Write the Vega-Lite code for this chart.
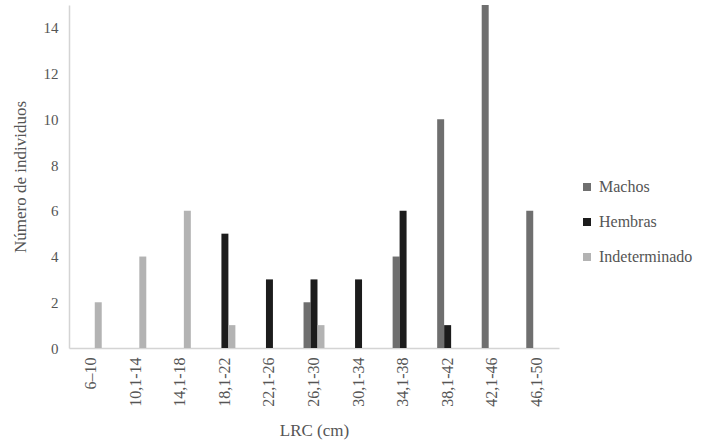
{
  "$schema": "https://vega.github.io/schema/vega-lite/v6.json",
  "autosize": "none",
  "width": 490,
  "height": 343,
  "padding": {"left": 69, "top": 5, "right": 155, "bottom": 98},
  "background": "white",
  "config": {
    "view": {"stroke": null},
    "font": "Liberation Serif"
  },
  "data": {
    "values": [
      {"LRC": "6–10", "Sexo": "Indeterminado", "n": 2},
      {"LRC": "10,1-14", "Sexo": "Indeterminado", "n": 4},
      {"LRC": "14,1-18", "Sexo": "Indeterminado", "n": 6},
      {"LRC": "18,1-22", "Sexo": "Hembras", "n": 5},
      {"LRC": "18,1-22", "Sexo": "Indeterminado", "n": 1},
      {"LRC": "22,1-26", "Sexo": "Hembras", "n": 3},
      {"LRC": "26,1-30", "Sexo": "Machos", "n": 2},
      {"LRC": "26,1-30", "Sexo": "Hembras", "n": 3},
      {"LRC": "26,1-30", "Sexo": "Indeterminado", "n": 1},
      {"LRC": "30,1-34", "Sexo": "Hembras", "n": 3},
      {"LRC": "34,1-38", "Sexo": "Machos", "n": 4},
      {"LRC": "34,1-38", "Sexo": "Hembras", "n": 6},
      {"LRC": "38,1-42", "Sexo": "Machos", "n": 10},
      {"LRC": "38,1-42", "Sexo": "Hembras", "n": 1},
      {"LRC": "42,1-46", "Sexo": "Machos", "n": 15},
      {"LRC": "46,1-50", "Sexo": "Machos", "n": 6}
    ]
  },
  "mark": {"type": "bar"},
  "encoding": {
    "x": {
      "field": "LRC",
      "type": "nominal",
      "sort": ["6–10", "10,1-14", "14,1-18", "18,1-22", "22,1-26", "26,1-30", "30,1-34", "34,1-38", "38,1-42", "42,1-46", "46,1-50"],
      "scale": {"paddingInner": 0.53, "paddingOuter": 0.265},
      "axis": {
        "title": "LRC (cm)",
        "titleFont": "Liberation Serif",
        "titleFontSize": 17,
        "titleFontWeight": "normal",
        "titleColor": "#555555",
        "titlePadding": 16,
        "labelAngle": -90,
        "labelFont": "Liberation Serif",
        "labelFontSize": 16,
        "labelColor": "#555555",
        "labelPadding": 9,
        "ticks": false,
        "domainColor": "#d4d4d4",
        "domainWidth": 1.5
      }
    },
    "xOffset": {
      "field": "Sexo",
      "type": "nominal",
      "scale": {"domain": ["Machos", "Hembras", "Indeterminado"], "paddingInner": 0, "paddingOuter": 0}
    },
    "y": {
      "field": "n",
      "type": "quantitative",
      "scale": {"domain": [0, 15], "nice": false},
      "axis": {
        "title": "Número de individuos",
        "titleFont": "Liberation Serif",
        "titleFontSize": 17,
        "titleFontWeight": "normal",
        "titleColor": "#555555",
        "titlePadding": 14,
        "values": [0, 2, 4, 6, 8, 10, 12, 14],
        "grid": false,
        "ticks": false,
        "labelFont": "Liberation Serif",
        "labelFontSize": 15,
        "labelColor": "#555555",
        "labelPadding": 11,
        "domainColor": "#d4d4d4",
        "domainWidth": 1.5
      }
    },
    "color": {
      "field": "Sexo",
      "type": "nominal",
      "scale": {"domain": ["Machos", "Hembras", "Indeterminado"], "range": ["#6f6f6f", "#1c1c1c", "#b3b3b3"]},
      "legend": {
        "title": null,
        "orient": "none",
        "legendX": 510,
        "legendY": 174,
        "symbolType": "square",
        "symbolSize": 64,
        "symbolStrokeWidth": 0,
        "labelFont": "Liberation Serif",
        "labelFontSize": 16,
        "labelColor": "#555555",
        "rowPadding": 19,
        "labelOffset": 4
      }
    }
  }
}
